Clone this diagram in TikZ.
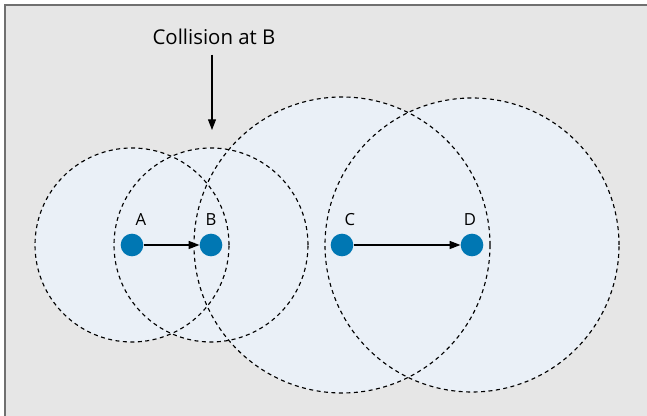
\documentclass[tikz,border=0pt]{standalone}
\usepackage{fontspec}
\setmainfont{Open Sans}
\usetikzlibrary{arrows.meta}
\definecolor{bggray}{HTML}{E6E6E6}
\definecolor{framegray}{HTML}{707070}
\definecolor{zoneblue}{HTML}{EAF0F7}
\definecolor{dotblue}{HTML}{0077B3}
\begin{document}
\begin{tikzpicture}[x=0.75pt, y=0.75pt,
    dot/.style={circle, fill=dotblue, inner sep=0pt, minimum size=17pt},
    lbl/.style={font=\fontsize{12.5}{14}\selectfont},
    zone/.style={draw=black, dash pattern=on 3pt off 2.6pt, line width=0.85pt},
    link/.style={-{Triangle[length=8pt, width=6pt]}, line width=0.8pt}]
            \useasboundingbox (0,0) rectangle (647,416);
            \fill[bggray] (5,0) rectangle (647,411);
            \draw[framegray, line width=1.6pt] (5,0) -- (5,411) -- (647,411);

            % ranges
            \fill[zoneblue] (132,171) circle (97) (211,171) circle (97)
                (342,171) circle (148) (472,171) circle (147);
            \draw[zone] (132,171) circle (97);
            \draw[zone] (211,171) circle (97);
            \draw[zone] (342,171) circle (148);
            \draw[zone] (472,171) circle (147);

            \node[dot] (a) at (132,171) {};
            \node[dot] (b) at (211,171) {};
            \node[dot] (c) at (342,171) {};
            \node[dot] (d) at (472,171) {};

            \node[lbl] at (141,196) {A};
            \node[lbl] at (211,196) {B};
            \node[lbl] at (350,196) {C};
            \node[lbl] at (470,196) {D};

            \draw[link] (a) -- (b);
            \draw[link] (c) -- (d);

            \node[font=\fontsize{15.3}{18}\selectfont] (coll) at (214,379) {Collision at B};
            \coordinate (hit) at (212,286);
            \draw[link] (coll.south -| hit) ++(0,-5) -- (hit);
        \end{tikzpicture}
\end{document}
